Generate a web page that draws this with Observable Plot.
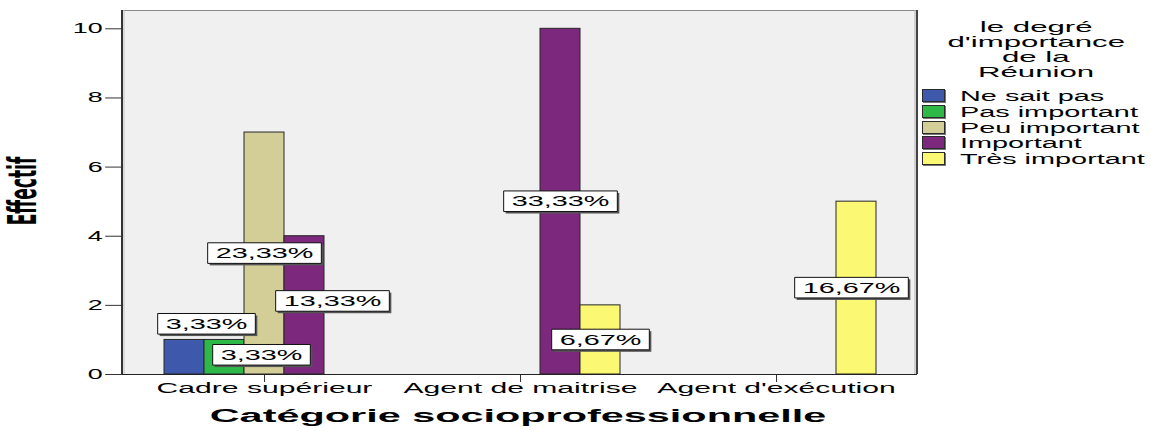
<!DOCTYPE html>
<html lang="fr">
<head>
<meta charset="utf-8">
<script src="https://cdn.jsdelivr.net/npm/d3@7"></script>
<script src="https://cdn.jsdelivr.net/npm/@observablehq/plot@0.6"></script>
<style>
  body { margin: 0; background: #fff; font-family: "Liberation Sans", Arial, sans-serif; color: #000; }
  #wrap { position: relative; width: 1151px; height: 431px; overflow: hidden; }
  #wrap svg { position: absolute; left: 0; top: 0; }
  .ytitle { position: absolute; left: 23px; top: 191px; width: 0; height: 0; }
  .ytitle span {
    position: absolute; left: 0; top: 0; white-space: nowrap;
    font-family: "Liberation Sans Narrow", "DejaVu Sans Condensed", sans-serif; font-stretch: condensed;
    font-weight: bold; font-size: 19px; line-height: 19px;
    transform-origin: 50% 50%; transform: translate(-50%, -50%) scale(2.05, 1) rotate(-90deg);
  }
  .xtitle { position: absolute; left: 518px; top: 416px; width: 0; height: 0; }
  .xtitle span {
    position: absolute; left: 0; top: 0; white-space: nowrap; font-weight: bold; font-size: 18px; line-height: 18px;
    transform-origin: 50% 50%; transform: translate(-50%, -50%) scale(2.3, 1);
  }
  #legend { position: absolute; left: 918px; top: 20px; width: 236px; }
  #legend .head { text-align: center; font-size: 14.5px; line-height: 15px; }
  #legend .head span { display: inline-block; transform: scaleX(2.15); transform-origin: 50% 50%; white-space: nowrap; }
  #legend .item { position: relative; height: 15.8px; }
  #legend .item i {
    position: absolute; left: 4px; top: 1px; width: 23px; height: 13px; box-sizing: border-box;
    border: 1px solid #2a2a2a; box-shadow: 1px 1px 0 #777;
  }
  #legend .item span {
    position: absolute; left: 42px; top: 0; font-size: 14px; line-height: 16px; white-space: nowrap;
    transform: scaleX(2.06); transform-origin: 0 50%;
  }
</style>
</head>
<body>
<div id="wrap"></div>
<script>
// Catégorie socioprofessionnelle × degré d'importance de la Réunion (effectifs)
const categories = ["Cadre supérieur", "Agent de maitrise", "Agent d'exécution"];
const levels = ["Ne sait pas", "Pas important", "Peu important", "Important", "Très important"];
const levelColors = ["#3e58ac", "#2eb848", "#d3ce97", "#7c287d", "#fbf873"];

// counts per level, in the order of `levels`
const cadreCounts = [1, 1, 7, 4, 0];
const maitriseCounts = [0, 0, 0, 10, 2];
const executionCounts = [0, 0, 0, 0, 5];

const yTicks = [0, 2, 4, 6, 8, 10];
const legendTitle = ["le degré", "d'importance", "de la", "Réunion"];
const yTitle = "Effectif";
const xTitle = "Catégorie socioprofessionnelle";

const countsByCategory = [cadreCounts, maitriseCounts, executionCounts];
const rows = categories.flatMap((category, i) =>
  levels.map((level, j) => ({category, level, count: countsByCategory[i][j]}))
).filter(d => d.count > 0);
const total = d3.sum(rows, d => d.count);
const pct = v => (v / total * 100).toFixed(2).replace(".", ",") + "%";

// a few labels are pushed aside so they don't collide (pixels)
const labelNudge = {
  "Cadre supérieur|Ne sait pas": [22, -33],
  "Cadre supérieur|Pas important": [37, -2],
  "Cadre supérieur|Important": [28, -4],
  "Agent d'exécution|Très important": [-5, 0]
};

const W = 1151, H = 431;
const ml = 122, mr = 234, mt = 10, mb = 57;
const fxPad = 0.05;
const edge = (W - ml - mr) / (categories.length + 2 * fxPad) * fxPad;
const yMax = 10.53;

const labelMarks = rows.map(d => {
  const [dx, dy] = labelNudge[d.category + "|" + d.level] || [0, 0];
  return Plot.text([d], {
    fx: "category", x: "level", y: r => r.count / 2, text: r => pct(r.count),
    dx, dy, fontSize: 15, fill: "#000", ariaDescription: "share"
  });
});

const chart = Plot.plot({
  width: W, height: H,
  marginLeft: ml, marginRight: mr, marginTop: mt, marginBottom: mb,
  style: {fontFamily: "Liberation Sans, Arial, sans-serif", color: "#000", background: "transparent", overflow: "visible"},
  fx: {domain: categories, paddingInner: 0, paddingOuter: fxPad, label: null},
  x: {domain: levels, paddingInner: 0, paddingOuter: 0.628, axis: null},
  y: {domain: [0, yMax], label: null},
  color: {domain: levels, range: levelColors},
  marks: [
    Plot.barY(rows, {fx: "category", x: "level", y: "count", fill: "level", stroke: "#262626", strokeWidth: 1}),
    Plot.axisY({ticks: yTicks, tickSize: 18, tickPadding: 3, fontSize: 14, label: null, dx: -edge, stroke: "#333", ariaDescription: "y-ticks"}),
    Plot.axisFx({anchor: "bottom", tickSize: 8, tickPadding: 1, fontSize: 14, label: null, stroke: "#333", ariaDescription: "fx-ticks"}),
    ...labelMarks
  ]
});

const wrap = document.getElementById("wrap");
wrap.appendChild(chart);

// plot area: light grey panel with its border
const svg = d3.select(chart);
const pL = ml, pR = W - mr, pT = mt, pB = H - mb;
const panel = svg.insert("g", "g").attr("aria-label", "panel");
panel.append("rect").attr("x", pL).attr("y", pT).attr("width", pR - pL).attr("height", pB - pT).attr("fill", "#f0f0f0");
const border = svg.append("g").attr("aria-label", "border").attr("fill", "none");
border.append("line").attr("x1", pL).attr("x2", pR).attr("y1", pT + 0.5).attr("y2", pT + 0.5).attr("stroke", "#8a8a8a");
border.append("line").attr("x1", pL + 2).attr("x2", pL + 2).attr("y1", pT).attr("y2", pB).attr("stroke", "#c4c4c4");
border.append("line").attr("x1", pL).attr("x2", pL).attr("y1", pT).attr("y2", pB).attr("stroke", "#333").attr("stroke-width", 2);
border.append("line").attr("x1", pR - 2).attr("x2", pR - 2).attr("y1", pT).attr("y2", pB).attr("stroke", "#b0b0b0");
border.append("line").attr("x1", pR).attr("x2", pR).attr("y1", pT).attr("y2", pB).attr("stroke", "#444").attr("stroke-width", 2);
border.append("line").attr("x1", pL).attr("x2", pR).attr("y1", pB + 0.5).attr("y2", pB + 0.5).attr("stroke", "#222");

// widen the glyphs of every svg text around its anchor point
function widen(t, sx) {
  let tr = t.getAttribute("transform") || "";
  const x = t.getAttribute("x"), y = t.getAttribute("y");
  let tx = 0, ty = 0;
  if (x != null && !/em$/.test(x)) { tx = +x; t.removeAttribute("x"); }
  if (y != null && !/em$/.test(y)) { ty = +y; t.removeAttribute("y"); }
  if (tx || ty) tr += ` translate(${tx},${ty})`;
  tr = /rotate/.test(tr) ? tr.replace("rotate", `scale(${sx},1) rotate`) : tr + ` scale(${sx},1)`;
  t.setAttribute("transform", tr.trim());
}
const SX = 1.92;
chart.querySelectorAll("text").forEach(t => {
  const fx = t.closest('[aria-description="fx-ticks"]');
  widen(t, fx ? 2.15 : SX);
});

// boxed value labels
const NS = "http://www.w3.org/2000/svg";
chart.querySelectorAll('[aria-description="share"] text').forEach(t => {
  const b = t.getBBox();
  const tr = t.getAttribute("transform") || "";
  const padX = 8 / SX, padY = 1.8;
  const mk = (dx, dy, fill, stroke) => {
    const r = document.createElementNS(NS, "rect");
    r.setAttribute("x", b.x - padX + dx / SX);
    r.setAttribute("y", b.y - padY + dy);
    r.setAttribute("width", b.width + 2 * padX);
    r.setAttribute("height", b.height + 2 * padY);
    r.setAttribute("fill", fill);
    if (stroke) { r.setAttribute("stroke", stroke); r.setAttribute("vector-effect", "non-scaling-stroke"); }
    if (tr) r.setAttribute("transform", tr);
    t.parentNode.insertBefore(r, t);
  };
  mk(2, 2, "#555", null);
  mk(0, 0, "#fff", "#111");
});

// axis titles
const yt = document.createElement("div");
yt.className = "ytitle";
yt.innerHTML = `<span>${yTitle}</span>`;
wrap.appendChild(yt);
const xt = document.createElement("div");
xt.className = "xtitle";
xt.innerHTML = `<span>${xTitle}</span>`;
wrap.appendChild(xt);

// legend
const legend = document.createElement("div");
legend.id = "legend";
legend.innerHTML =
  legendTitle.map(s => `<div class="head"><span>${s}</span></div>`).join("") +
  `<div style="height:8px"></div>` +
  levels.map((l, i) => `<div class="item"><i style="background:${levelColors[i]}"></i><span>${l}</span></div>`).join("");
wrap.appendChild(legend);
</script>
</body>
</html>
